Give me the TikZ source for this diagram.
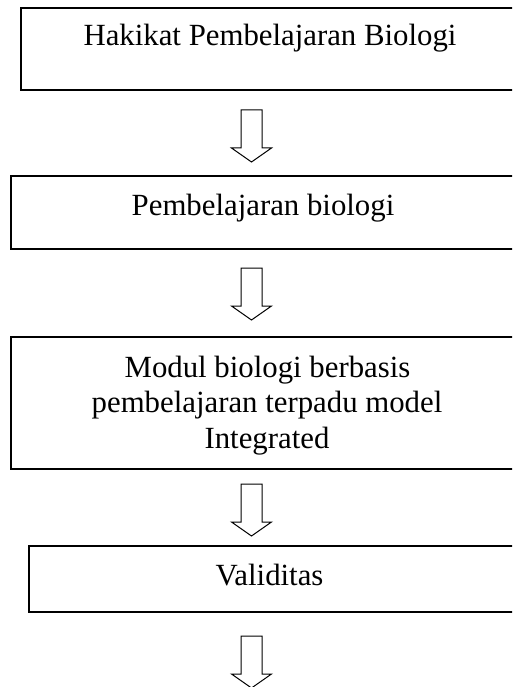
\documentclass[tikz,border=0pt]{standalone}
\usepackage{fontspec}
\setmainfont{Liberation Serif}
\begin{document}
\begin{tikzpicture}[x=1pt,y=-1pt,
  box/.style={draw=black,line width=1.3pt,rectangle,inner sep=0pt,fill=none},
  lbl/.style={anchor=base,inner sep=0pt,font=\fontsize{30.8}{35.5}\selectfont},
  arr/.style={draw=black,line width=1pt,line join=miter}]
\useasboundingbox (0,0) rectangle (512,687);
\clip (0,0) rectangle (512,687);
\newcommand{\blockdownarrow}[1]{%
  \draw[arr] (#1) ++(-10.5,0) -- ++(0,38) -- ++(-9.5,0) -- ++(20,14) -- ++(20,-14) -- ++(-9.5,0) -- ++(0,-38) -- cycle;}
% boxes (right edges run past the page)
\node[box,minimum width=499pt,minimum height=82pt] (b1) at (270.5,49) {};
\node[box,minimum width=509pt,minimum height=73pt] (b2) at (265.5,212.5) {};
\node[box,minimum width=509pt,minimum height=132pt] (b3) at (265.5,403) {};
\node[box,minimum width=491pt,minimum height=66pt] (b4) at (274.5,579) {};
% texts
\node[lbl] (t1) at (270,46) {Hakikat Pembelajaran Biologi};
\node[lbl] (t2) at (263,215.7) {Pembelajaran biologi};
\node[lbl] (t3a) at (267.5,377) {Modul biologi berbasis};
\node[lbl] (t3b) at (267,412.7) {pembelajaran terpadu model};
\node[lbl] (t3c) at (267,448) {Integrated};
\node[lbl] (t4) at (269.5,585) {Validitas};
% arrows
\coordinate (a1) at (251.5,110);
\coordinate (a2) at (251.5,268);
\coordinate (a3) at (251.5,484);
\coordinate (a4) at (251.5,636);
\blockdownarrow{a1}
\blockdownarrow{a2}
\blockdownarrow{a3}
\blockdownarrow{a4}
\end{tikzpicture}
\end{document}
